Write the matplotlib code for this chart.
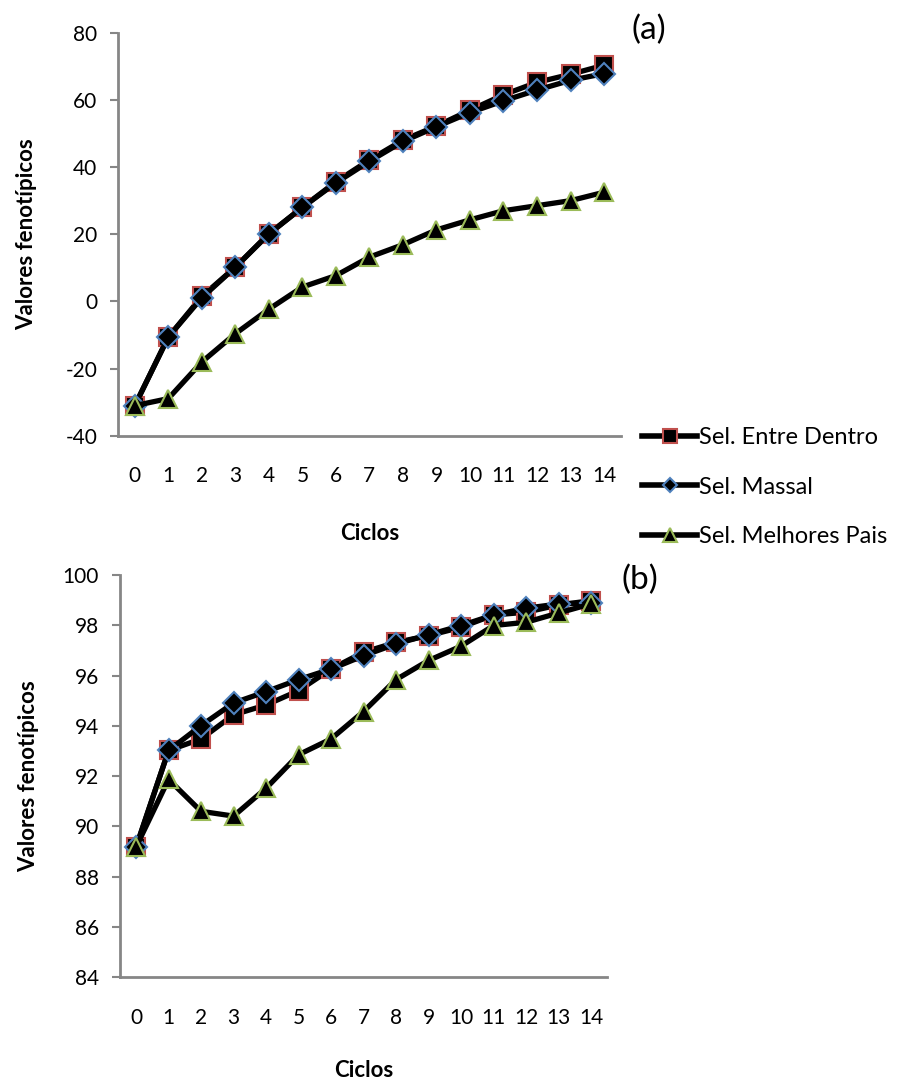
import matplotlib.pyplot as plt
from matplotlib.lines import Line2D

plt.rcParams['font.family'] = ['Lato', 'DejaVu Sans']
plt.rcParams['axes.unicode_minus'] = False

ciclos = list(range(15))

# (a) valores fenotipicos por ciclo
a_entre_dentro = [-31.0, -10.6, 1.5, 10.2, 20.1, 28.0, 35.6, 42.1, 48.0, 52.2, 56.9, 61.5, 65.2, 67.6, 70.3]
a_massal = [-31.0, -10.6, 1.1, 10.2, 20.1, 28.0, 35.3, 41.7, 47.6, 52.0, 56.2, 59.7, 62.9, 65.8, 67.8]
a_melhores_pais = [-31.0, -28.9, -18.0, -9.6, -2.3, 4.3, 7.7, 13.2, 16.9, 21.3, 24.3, 27.0, 28.5, 30.0, 32.5]

# (b) valores fenotipicos por ciclo
b_entre_dentro = [89.18, 93.02, 93.48, 94.44, 94.83, 95.40, 96.26, 96.93, 97.32, 97.59, 97.92, 98.41, 98.52, 98.81, 98.98]
b_massal = [89.18, 93.02, 94.01, 94.91, 95.36, 95.84, 96.26, 96.79, 97.26, 97.62, 97.99, 98.41, 98.68, 98.85, 98.89]
b_melhores_pais = [89.18, 91.87, 90.60, 90.41, 91.52, 92.85, 93.48, 94.57, 95.84, 96.60, 97.17, 97.99, 98.12, 98.49, 98.85]

labels = ['Sel. Entre Dentro', 'Sel. Massal', 'Sel. Melhores Pais']
markers = ['s', 'D', '^']
edge_colors = ['#C0504D', '#4F81BD', '#9BBB59']
plot_sizes = [13, 11, 13]
legend_sizes = [10, 7, 10]
axis_gray = '#868686'

fig = plt.figure(figsize=(9.01, 10.87), dpi=100)
ax_a = fig.add_axes([0.131, 0.599, 0.558, 0.371])
ax_b = fig.add_axes([0.133, 0.101, 0.541, 0.370])


def draw_panel(ax, series, ylim, yticks, tag, tag_x, tag_y, xlabelpad):
    for vals, m, ec, ms in zip(series, markers, edge_colors, plot_sizes):
        ax.plot(ciclos, vals, color='black', linewidth=3.8, marker=m, markersize=ms,
                markerfacecolor='black', markeredgecolor=ec, markeredgewidth=1.5)
    ax.set_xlim(-0.5, 14.5)
    ax.set_ylim(*ylim)
    ax.set_yticks(yticks)
    ax.set_xticks(ciclos)
    for side in ['top', 'right']:
        ax.spines[side].set_visible(False)
    for side in ['left', 'bottom']:
        ax.spines[side].set_color(axis_gray)
        ax.spines[side].set_linewidth(2)
    ax.tick_params(axis='y', length=6, width=1.5, color=axis_gray, labelsize=15, pad=9)
    ax.tick_params(axis='x', length=0, labelsize=15, pad=22)
    ax.set_xlabel('Ciclos', fontsize=16, fontweight='bold', labelpad=xlabelpad)
    ax.set_ylabel('Valores fenotípicos', fontsize=16, fontweight='bold', va='center')
    w = ax.get_position().width * fig.get_figwidth() * fig.dpi
    ax.yaxis.set_label_coords(-91 / w, 0.5)
    ax.text(tag_x, tag_y, tag, transform=ax.transAxes, fontsize=24, ha='left', va='center')


draw_panel(ax_a, [a_entre_dentro, a_massal, a_melhores_pais], (-40, 80),
           range(-40, 81, 20), '(a)', 1.022, 1.007, 26)
draw_panel(ax_b, [b_entre_dentro, b_massal, b_melhores_pais], (84, 100),
           range(84, 101, 2), '(b)', 1.03, 0.988, 23)

handles = [Line2D([], [], color='black', linewidth=4, marker=m, markersize=ms,
                  markerfacecolor='black', markeredgecolor=ec, markeredgewidth=1.5)
           for m, ec, ms in zip(markers, edge_colors, legend_sizes)]
fig.legend(handles, labels, loc='upper left', bbox_to_anchor=(0.713, 0.607),
           frameon=False, fontsize=17, handlelength=2.3, handletextpad=0.1,
           labelspacing=1.2, borderpad=0, borderaxespad=0)

fig.savefig('out.png', dpi=100)
